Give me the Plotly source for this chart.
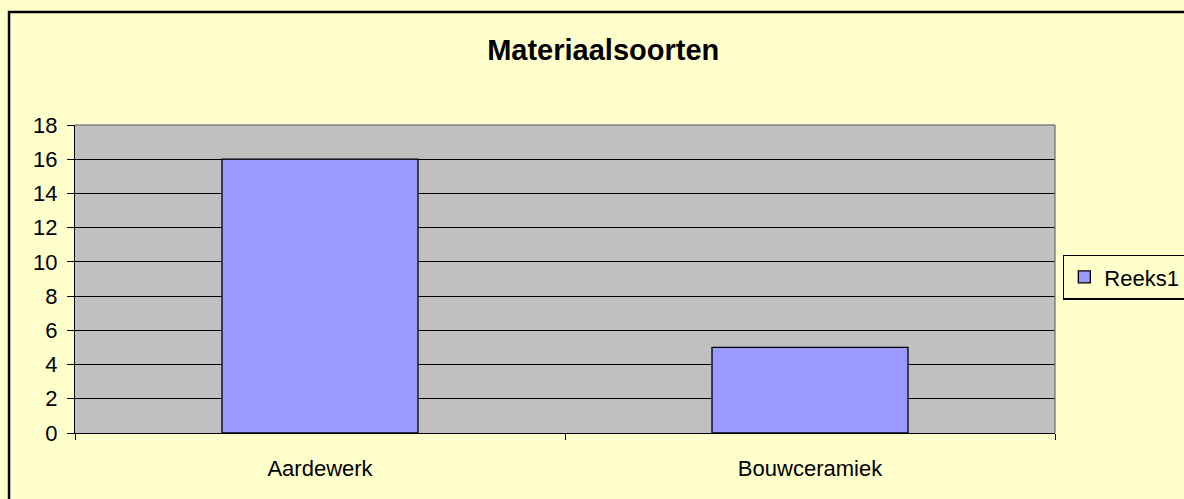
import plotly.graph_objects as go

categories = ["Aardewerk", "Bouwceramiek"]
values = [16, 5]
series_name = "Reeks1"
title_text = "Materiaalsoorten"

fig = go.Figure()
fig.add_trace(go.Bar(
    x=categories, y=values, name=series_name,
    marker=dict(color="#9999FF", line=dict(color="black", width=1.3)),
    showlegend=True,
))

fig.update_layout(
    width=1184, height=499,
    margin=dict(l=75, r=129, t=125, b=66, autoexpand=False),
    paper_bgcolor="#FFFFCC",
    plot_bgcolor="#C0C0C0",
    font=dict(family="Liberation Sans, Arial", size=22, color="black"),
    bargap=0.6,
    title=dict(text="<b>" + title_text + "</b>", x=0.539, xref="paper", xanchor="center",
               y=0.9, yref="container", yanchor="middle", font=dict(size=29)),
    showlegend=True,
    legend=dict(x=1.008, xanchor="left", y=0.506, yanchor="middle",
                bordercolor="black", borderwidth=1.5, bgcolor="#FFFFCC",
                font=dict(size=22), itemwidth=30),
    xaxis=dict(showline=True, linecolor="black", linewidth=1.3,
               ticks="outside", ticklen=6, tickcolor="black", tickson="boundaries",
               showgrid=False, ticklabelstandoff=15),
    yaxis=dict(range=[0, 18], dtick=2, showline=True, linecolor="black", linewidth=1.3,
               ticks="outside", ticklen=7, tickcolor="black",
               showgrid=True, gridcolor="black", gridwidth=1, zeroline=False,
               ticklabelstandoff=5),
)

# grey top/right plot border and outer chart border
fig.add_shape(type="line", xref="paper", yref="paper", x0=0, x1=1, y0=1, y1=1,
              line=dict(color="#808080", width=1.5), layer="above")
fig.add_shape(type="line", xref="paper", yref="paper", x0=1, x1=1, y0=0, y1=1,
              line=dict(color="#808080", width=1.5), layer="above")
fig.add_shape(type="rect", xref="paper", yref="paper", x0=-0.0673, x1=1.25, y0=-0.35, y1=1.3669,
              line=dict(color="black", width=2.5), fillcolor="rgba(0,0,0,0)", layer="above")

fig.write_html("out.html", config={"displayModeBar": False},
               post_script="document.body.style.margin='0';document.body.style.overflow='hidden';")
